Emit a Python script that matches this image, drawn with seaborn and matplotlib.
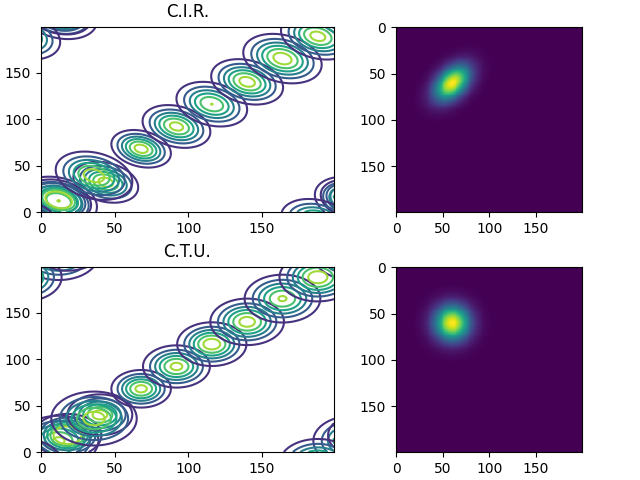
import numpy as np
import matplotlib
matplotlib.use("Agg")
import matplotlib.pyplot as plt
import seaborn as sns

# blob centres and ring half widths
cir_x = [12, 12, 44, 36, 68, 92, 116, 140, 164, 188]
cir_y = [12, 13, 32, 39, 68, 92, 116, 140, 165, 189]
cir_outer = [26, 22, 22, 26, 20.2, 23, 24, 24.4, 26.6, 25]
cir_inner = [1, 9, 5, 7, 4.5, 4.5, 0.8, 5.3, 6.2, 5.1]
cir_rho = -0.25
cir_peak_rho = -0.42

ctu_x = [12, 18, 40, 36, 68, 92, 116, 140, 164, 188]
ctu_y = [12, 18, 40, 36, 68, 92, 116, 140, 165, 188]
ctu_outer = [27, 23, 22, 29, 20.2, 22.7, 23.5, 25, 25.7, 26]
ctu_inner = [4, 9.5, 5, 7.3, 3.9, 4, 5.7, 5.3, 2.8, 6.5]
ctu_rho = 0.0
ctu_peak_rho = 0.0

peak_x = 60
peak_y = 60
peak_sigma = 13
levels = [1, 2, 3, 4, 5, 6]
ticks = [0, 50, 100, 150]

grid = np.arange(200)
xx, yy = np.meshgrid(grid, grid)


def blob(cx, cy, sigma, rho):
    # wrapped distance, the field lives on a torus
    dx = (xx - cx + 100) % 200 - 100
    dy = (yy - cy + 100) % 200 - 100
    q = (dx**2 - 2 * rho * dx * dy + dy**2) / (1 - rho**2)
    return np.exp(-q / (2 * sigma**2))


def draw_row(left, right, title, cx, cy, outer, inner, rho, peak_rho):
    for a, b, r_out, r_in in zip(cx, cy, outer, inner):
        # outer ring is level 1, inner ring is level 6
        s2 = (r_out**2 - r_in**2) / (2 * np.log(6))
        h = np.exp(r_out**2 / (2 * s2))
        z = h * blob(a, b, np.sqrt(s2), rho)
        left.contour(xx, yy, z, levels=levels, cmap="viridis", vmin=0, vmax=7)
    left.set_title(title, pad=7)
    left.set_xticks(ticks)
    left.set_yticks(ticks)

    sns.heatmap(blob(peak_x, peak_y, peak_sigma, peak_rho), ax=right, cmap="viridis",
                cbar=False, xticklabels=False, yticklabels=False)
    right.set_xticks([t + 0.5 for t in ticks])
    right.set_xticklabels(ticks, rotation=0)
    right.set_yticks([t + 0.5 for t in ticks])
    right.set_yticklabels(ticks, rotation=0)
    right.tick_params(length=3.5, width=0.8)
    for s in right.spines.values():
        s.set_visible(True)


fig = plt.figure(figsize=(6.4, 4.8), dpi=100)
ax_tl = fig.add_axes([41 / 640, 268 / 480, 293 / 640, 185 / 480])
ax_tr = fig.add_axes([396 / 640, 268 / 480, 186 / 640, 185 / 480])
ax_bl = fig.add_axes([41 / 640, 28 / 480, 293 / 640, 185 / 480])
ax_br = fig.add_axes([396 / 640, 28 / 480, 186 / 640, 185 / 480])
draw_row(ax_tl, ax_tr, "C.I.R.", cir_x, cir_y, cir_outer, cir_inner, cir_rho, cir_peak_rho)
draw_row(ax_bl, ax_br, "C.T.U.", ctu_x, ctu_y, ctu_outer, ctu_inner, ctu_rho, ctu_peak_rho)
plt.savefig("out.png", dpi=100)
